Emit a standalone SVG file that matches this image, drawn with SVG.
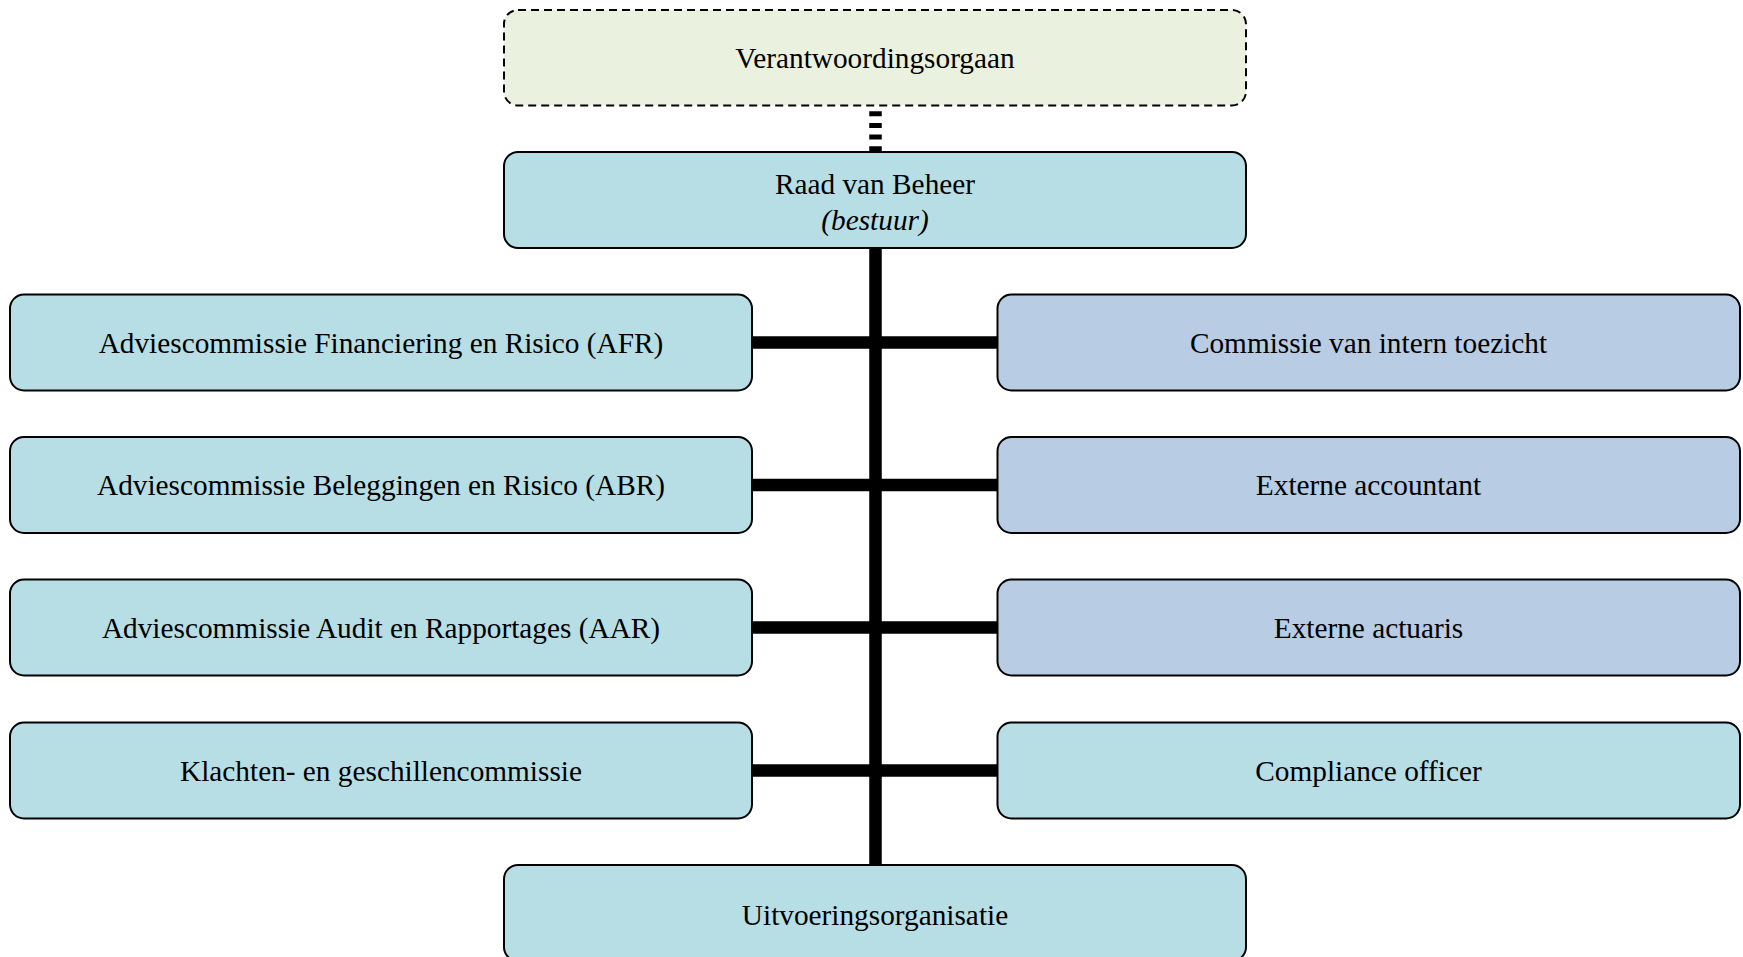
<svg xmlns="http://www.w3.org/2000/svg" width="1743" height="957" viewBox="0 0 1743 957">
<style>
.box{stroke:#000;stroke-width:2}
.aqua{fill:#B7DEE5}
.blue{fill:#B8CCE4}
.green{fill:#EAF1DE;stroke-dasharray:8 5}
text{font-family:"Liberation Serif","Times New Roman",serif;font-size:29.3px;fill:#000;text-anchor:middle}
.conn{stroke:#000;stroke-width:12.5;fill:none}
</style>
<rect width="1743" height="957" fill="#fff"/>
<g id="connectors">
<line class="conn" x1="875.5" y1="99.5" x2="875.5" y2="152" stroke-dasharray="5 6.7" stroke-width="12"/>
<line class="conn" x1="875.5" y1="247" x2="875.5" y2="866"/>
<line class="conn" x1="752" y1="342.5" x2="998" y2="342.5"/>
<line class="conn" x1="752" y1="485" x2="998" y2="485"/>
<line class="conn" x1="752" y1="627.5" x2="998" y2="627.5"/>
<line class="conn" x1="752" y1="770.5" x2="998" y2="770.5"/>
</g>
<g id="verantwoordingsorgaan">
<rect class="box green" x="504" y="10" width="742" height="95.5" rx="14"/>
<text x="875" y="67.5">Verantwoordingsorgaan</text>
</g>
<g id="raad-van-beheer">
<rect class="box aqua" x="504" y="152" width="742" height="96" rx="14"/>
<text x="875" y="193.5">Raad van Beheer</text>
<text x="875" y="229.5" font-style="italic">(bestuur)</text>
</g>
<g id="afr">
<rect class="box aqua" x="10" y="294.5" width="742" height="96" rx="14"/>
<text x="381" y="352.5">Adviescommissie Financiering en Risico (AFR)</text>
</g>
<g id="abr">
<rect class="box aqua" x="10" y="437" width="742" height="96" rx="14"/>
<text x="381" y="495">Adviescommissie Beleggingen en Risico (ABR)</text>
</g>
<g id="aar">
<rect class="box aqua" x="10" y="579.5" width="742" height="96" rx="14"/>
<text x="381" y="637.5">Adviescommissie Audit en Rapportages (AAR)</text>
</g>
<g id="klachten">
<rect class="box aqua" x="10" y="722.5" width="742" height="96" rx="14"/>
<text x="381" y="780.5">Klachten- en geschillencommissie</text>
</g>
<g id="commissie-intern-toezicht">
<rect class="box blue" x="997.5" y="294.5" width="742.5" height="96" rx="14"/>
<text x="1368.5" y="352.5">Commissie van intern toezicht</text>
</g>
<g id="externe-accountant">
<rect class="box blue" x="997.5" y="437" width="742.5" height="96" rx="14"/>
<text x="1368.5" y="495">Externe accountant</text>
</g>
<g id="externe-actuaris">
<rect class="box blue" x="997.5" y="579.5" width="742.5" height="96" rx="14"/>
<text x="1368.5" y="637.5">Externe actuaris</text>
</g>
<g id="compliance-officer">
<rect class="box aqua" x="997.5" y="722.5" width="742.5" height="96" rx="14"/>
<text x="1368.5" y="780.5">Compliance officer</text>
</g>
<g id="uitvoeringsorganisatie">
<rect class="box aqua" x="504" y="865" width="742" height="96" rx="14"/>
<text x="875" y="925">Uitvoeringsorganisatie</text>
</g>
</svg>
